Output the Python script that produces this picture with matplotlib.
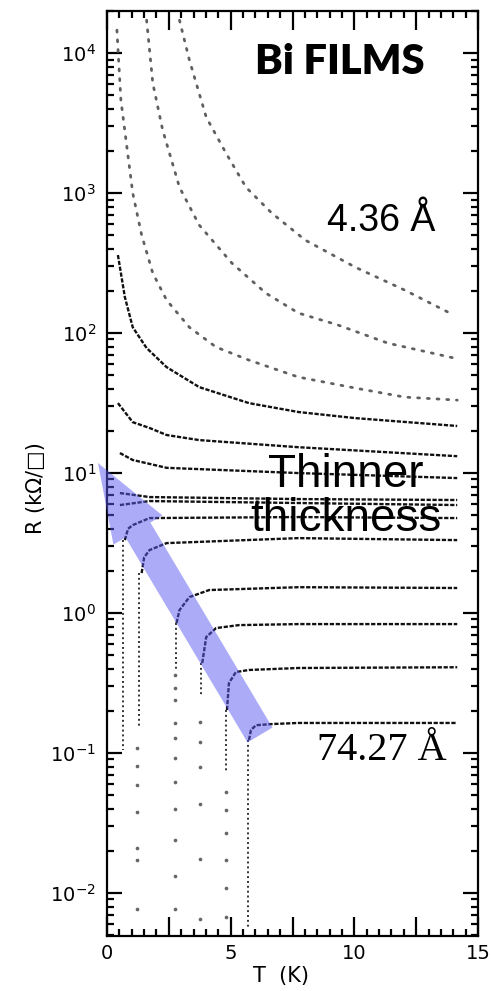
import numpy as np
import matplotlib
matplotlib.use('Agg')
import matplotlib.pyplot as plt
from matplotlib.patches import FancyArrow
from matplotlib.transforms import IdentityTransform
from matplotlib.ticker import LogLocator, MultipleLocator, FuncFormatter, NullFormatter

# ---- data: R (kOhm/sq) vs T (K) ----
# thinnest films (sparse dots, run off the top)
t1 = [0.40, 0.56, 1.04, 1.40, 1.85, 2.41, 3.33, 4.41, 5.74, 7.74, 10.03, 12.03, 14.16]
r1 = [14600, 4620, 1000, 501, 268, 172, 110, 79.4, 64.1, 48.5, 40.5, 34.9, 33.2]
t2 = [1.60, 1.85, 2.25, 2.93, 3.73, 5.05, 6.42, 7.74, 9.35, 11.35, 14.04]
r2 = [17200, 6110, 2820, 1100, 590, 316, 193, 139, 114, 84.8, 66.3]
t3 = [2.93, 3.33, 4.01, 4.81, 5.62, 6.66, 8.02, 10.03, 12.03, 14.04]
r3 = [17200, 8920, 3490, 1930, 1100, 720, 461, 296, 203, 134]

# insulating / marginal films
t4 = [0.44, 0.72, 1.04, 1.60, 2.41, 3.73, 5.74, 7.74, 10.03, 14.16]
r4 = [361, 181, 110, 78.2, 57.1, 41.1, 31.6, 27.3, 24.7, 21.7]
t5 = [0.44, 1.04, 1.72, 2.41, 3.73, 7.74, 14.16]
r5 = [31.6, 23.1, 21.0, 18.7, 17.2, 15.3, 13.2]
t6 = [0.52, 1.04, 2.41, 7.74, 14.16]
r6 = [13.9, 12.4, 10.9, 10.0, 9.21]
t7 = [0.52, 1.72, 7.74, 14.16]
r7 = [7.2, 6.74, 6.52, 6.42]
t8 = [0.52, 1.72, 7.74, 14.16]
r8 = [5.91, 6.31, 6.11, 5.91]

# superconducting films (flat part + bend)
t9 = [0.72, 0.85, 1.04, 1.72, 7.74, 14.16]
r9 = [3.32, 4.0, 4.25, 4.77, 4.85, 4.77]
t10 = [1.40, 1.50, 1.72, 2.41, 7.74, 14.16]
r10 = [1.93, 2.5, 2.82, 3.16, 3.43, 3.32]
t11 = [2.81, 2.93, 3.33, 4.13, 7.74, 14.16]
r11 = [0.849, 1.05, 1.30, 1.46, 1.53, 1.51]
t12 = [3.85, 4.01, 4.41, 5.33, 7.74, 14.16]
r12 = [0.44, 0.674, 0.781, 0.820, 0.834, 0.834]
t13 = [4.85, 4.93, 5.21, 5.74, 7.74, 14.16]
r13 = [0.203, 0.316, 0.379, 0.392, 0.405, 0.41]
t14 = [5.74, 5.82, 6.02, 6.66, 7.74, 14.16]
r14 = [0.124, 0.146, 0.158, 0.161, 0.164, 0.164]

# vertical drops at the transition
drop_t = [0.64, 1.28, 2.77, 3.79, 4.83, 5.72]
drop_hi = [3.32, 1.93, 0.849, 0.44, 0.203, 0.124]
drop_lo = [0.105, 0.15, 0.40, 0.25, 0.075, 0.0057]

# sparse points below the dense part of each drop
sparse_128 = [0.1087, 0.0807, 0.059, 0.0379, 0.021, 0.0172, 0.0077]
sparse_277 = [0.361, 0.291, 0.239, 0.164, 0.128, 0.092, 0.062, 0.0398, 0.0239, 0.0132, 0.0077]
sparse_379 = [0.166, 0.12, 0.0794, 0.0432, 0.0175, 0.0065]
sparse_483 = [0.0526, 0.0392, 0.0268, 0.0172, 0.0109, 0.0067]

# ---- figure ----
fig = plt.figure(figsize=(4.91, 9.91), dpi=100)
ax = fig.add_axes([0.218, 0.0555, 0.7555, 0.9334])

for t, r in [(t1, r1), (t2, r2), (t3, r3)]:
    ax.plot(t, r, color='#606060', lw=2.0, ls=(0, (0.7, 2.8)), dash_capstyle='round')

for t, r in [(t4, r4), (t5, r5), (t6, r6), (t7, r7), (t8, r8),
             (t9, r9), (t10, r10), (t11, r11), (t12, r12), (t13, r13), (t14, r14)]:
    ax.plot(t, r, color='#111111', lw=1.7, ls=(0, (1.8, 0.7)))

for t, hi, lo in zip(drop_t, drop_hi, drop_lo):
    ax.plot([t, t], [hi, lo], color='#333333', lw=1.4, ls=(0, (1, 1.5)))

for t, pts in zip([1.22, 2.75, 3.77, 4.81], [sparse_128, sparse_277, sparse_379, sparse_483]):
    ax.scatter([t] * len(pts), pts, s=7, color='#666666', lw=0)

ax.set_yscale('log')
ax.set_xlim(0, 15)
ax.set_ylim(4.93e-3, 2.0e4)

# axes styling
for sp in ax.spines.values():
    sp.set_linewidth(1.6)
ax.xaxis.set_major_locator(MultipleLocator(2.5))
ax.xaxis.set_minor_locator(MultipleLocator(0.5))
ax.xaxis.set_major_formatter(FuncFormatter(
    lambda v, p: f'{v:g}' if abs(v / 5 - round(v / 5)) < 1e-6 else ''))
ax.yaxis.set_major_locator(LogLocator(base=10, numticks=20))
ax.yaxis.set_minor_locator(LogLocator(base=10, subs=np.arange(2, 10), numticks=20))
ax.yaxis.set_minor_formatter(NullFormatter())
ax.tick_params(which='both', direction='in', top=True, right=True, width=1.6)
ax.tick_params(axis='x', which='major', length=14, pad=6, labelsize=14)
ax.tick_params(axis='y', which='major', length=11, pad=8, labelsize=14)
ax.tick_params(which='minor', length=5)

ax.set_xlabel('T  (K)', fontsize=15)
ax.xaxis.set_label_coords(0.47, -0.032)
ax.set_ylabel('R (kΩ/□)', fontsize=15)
ax.yaxis.set_label_coords(-0.165, 0.484)

# annotations
ax.text(0.628, 0.945, 'Bi FILMS', transform=ax.transAxes, ha='center', va='center',
        fontsize=30, fontweight='heavy', family='Lato')
ax.text(0.738, 0.773, '4.36 Å', transform=ax.transAxes, ha='center', va='center',
        fontsize=27, family='Liberation Sans')
ax.text(0.644, 0.475, 'Thinner\nthickness', transform=ax.transAxes, ha='center', va='center',
        fontsize=33, family='Liberation Sans', linespacing=1.0)
ax.text(0.740, 0.201, '74.27 Å', transform=ax.transAxes, ha='center', va='center',
        fontsize=29, family='Liberation Serif')

# translucent blue arrow (pixel coordinates of the figure)
arrow = FancyArrow(260, 991 - 735, -162, 272, width=29, head_width=57, head_length=78,
                   length_includes_head=True, transform=IdentityTransform(),
                   color=(0.35, 0.35, 0.95), alpha=0.5, lw=0, zorder=5)
fig.add_artist(arrow)

plt.savefig('out.png', dpi=100)
plt.close()
